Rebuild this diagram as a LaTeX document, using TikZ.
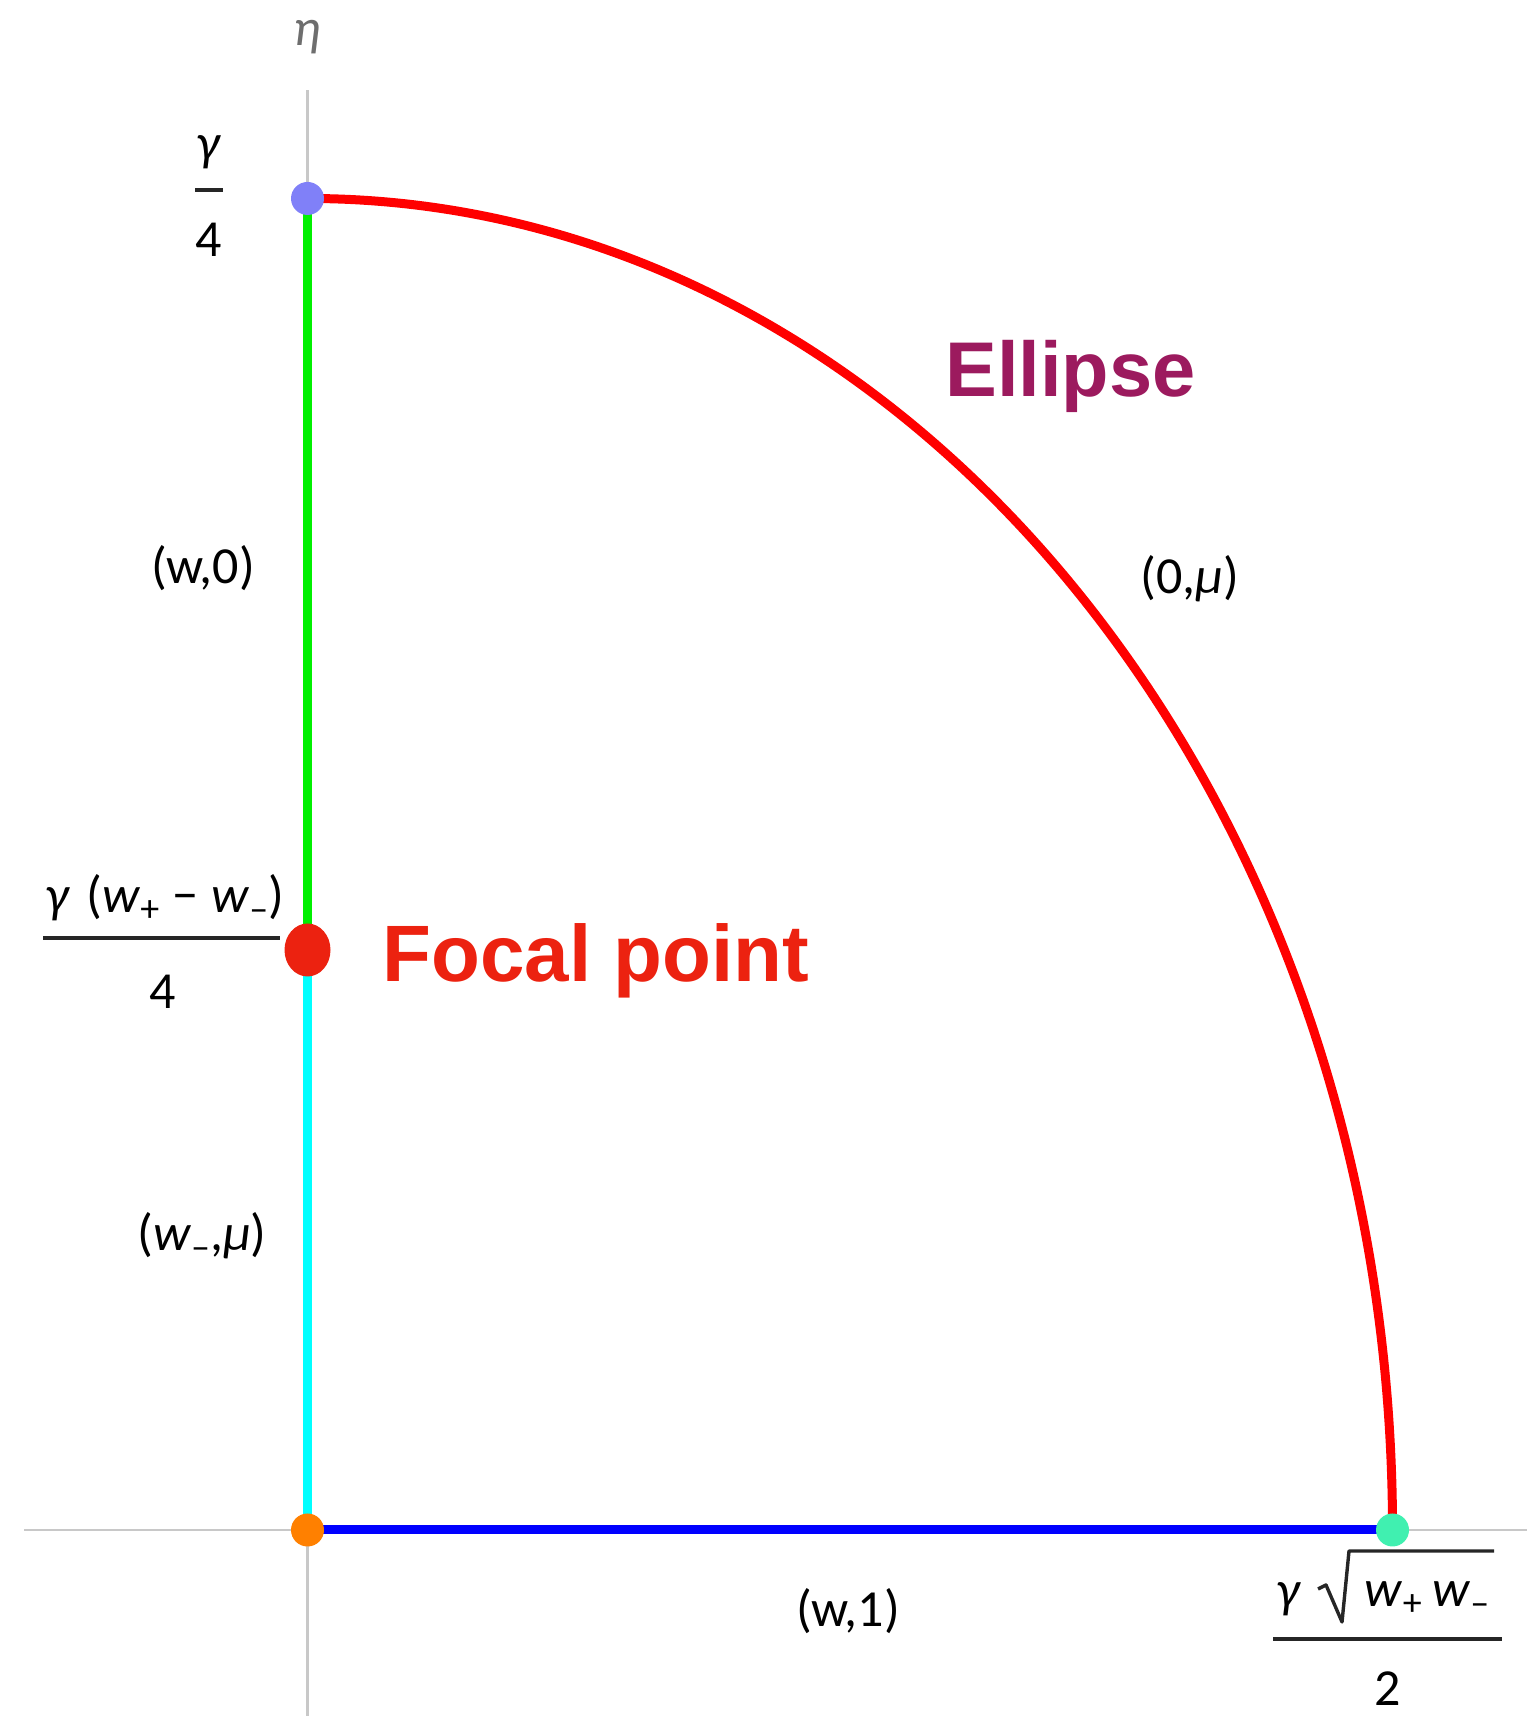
\documentclass[tikz,border=0pt]{standalone}
\usepackage{fontspec}
\usetikzlibrary{shapes.geometric}
\setmainfont{Carlito}
\newfontfamily\hv{Liberation Sans}
\newcommand{\mysub}[1]{\raisebox{-0.35ex}{\fontsize{19}{19}\selectfont #1}}
\definecolor{axisgray}{RGB}{200,200,200}
\definecolor{etagray}{RGB}{110,110,110}
\definecolor{lgreen}{RGB}{0,240,0}
\definecolor{lcyan}{RGB}{0,255,255}
\definecolor{lblue}{RGB}{0,0,255}
\definecolor{lred}{RGB}{255,0,0}
\definecolor{dtop}{RGB}{128,128,248}
\definecolor{dorange}{RGB}{255,128,0}
\definecolor{dteal}{RGB}{64,240,176}
\definecolor{focalred}{RGB}{236,34,16}
\definecolor{ellpurple}{RGB}{156,26,94}
\begin{document}
\begin{tikzpicture}[x=0.5pt,y=0.5pt,
  axisline/.style={draw=axisgray,line width=1.25pt},
  seg/.style={line width=4.5pt},
  pdot/.style={circle,inner sep=0pt,minimum size=16.5pt},
  lbl/.style={inner sep=0pt,font=\fontsize{26}{30}\selectfont},
  fracbar/.style={draw=black!85,line width=2.2pt},
  bigtext/.style={inner sep=0pt,font=\hv\bfseries\fontsize{40}{46}\selectfont}]
\useasboundingbox (0,0) rectangle (1527,1716);
% key points
\coordinate (O) at (307.5,186);
\coordinate (T) at (307.5,1517.5);
\coordinate (R) at (1392.5,186);
\coordinate (F) at (307.5,766);
\coordinate (ytop) at (307.5,1626);
\coordinate (ybot) at (307.5,0);
\coordinate (xl) at (24,186);
\coordinate (xr) at (1527,186);
% axes
\draw[axisline] (ybot) -- (ytop);
\draw[axisline] (xl) -- (xr);
\node[lbl,text=etagray] (eta) at (307,1679) {\textit{η}};
% segments
\draw[seg,lgreen] (T) -- (F);
\draw[seg,lcyan] (F) -- (O);
\draw[seg,lblue] (O) -- (R);
\draw[seg,lred] (T) arc[start angle=90,end angle=0,x radius=1085,y radius=1331.5];
% dots
\node[pdot,fill=dtop] (Tdot) at (T) {};
\node[pdot,fill=dorange] (Odot) at (O) {};
\node[pdot,fill=dteal] (Rdot) at (R) {};
\node[ellipse,inner sep=0pt,minimum width=23pt,minimum height=26.5pt,fill=focalred] (Fdot) at (F) {};
% big labels
\node[bigtext,text=ellpurple,anchor=base west,font=\hv\bfseries\fontsize{38.8}{44}\selectfont] (elltxt) at (945,1319) {Ellipse};
\node[bigtext,text=focalred,anchor=base west] (focaltxt) at (382,734) {Focal point};
% edge labels
\node[lbl] (w0) at (203,1148) {(w,0)};
\node[lbl] (wmu) at (202,480) {(\textit{w}\mysub{–},\textit{μ})};
\node[lbl] (zmu) at (1190,1137) {(0,\textit{μ})};
\node[lbl] (w1) at (848,105) {(w,1)};
% top fraction gamma/4
\node[lbl] (tnum) at (209,1564) {\textit{γ}};
\draw[fracbar] (195,1526) -- (223,1526);
\node[lbl] (tden) at (209,1476) {4};
% middle fraction
\node[lbl] (mnum) at (165,818) {\textit{γ}\hspace{0.3em}(\textit{w}\mysub{+}\hspace{0.25em}−\hspace{0.25em}\textit{w}\mysub{–})};
\draw[fracbar] (43,778) -- (280,778);
\node[lbl] (mden) at (163,724) {4};
% bottom fraction
\node[lbl] (bg) at (1289,117) {\textit{γ}};
\draw[black!85,line width=1.7pt,line join=round] (1318,127) -- (1326,131) -- (1342,94) -- (1349,165) -- (1494,165);
\node[lbl,anchor=base] (bw) at (1427,109) {\textit{w}\mysub{+}\hspace{0.2em}\textit{w}\mysub{–}};
\draw[fracbar] (1273,77) -- (1502,77);
\node[lbl] (bden) at (1388,27) {2};
\end{tikzpicture}
\end{document}
